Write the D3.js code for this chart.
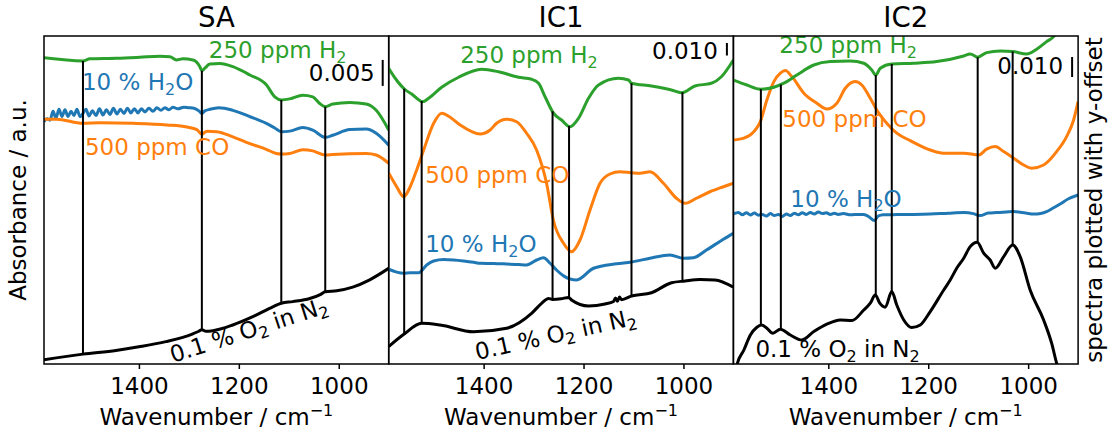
<!DOCTYPE html>
<html>
<head>
<meta charset="utf-8">
<script src="https://cdn.jsdelivr.net/npm/d3@7"></script>
<style>
  body { margin: 0; background: #fff; }
  text { font-family: "DejaVu Sans", sans-serif; }
</style>
</head>
<body>
<div id="chart"></div>
<script>
// Panels and their spectra (wavenumber in cm-1, absorbance in mAbs, offset already applied)
const panels = ["SA", "IC1", "IC2"];
const yMax = [63.1, 262.4, 164];          // visible absorbance range per panel (mAbs)
const tickValues = [1400, 1200, 1000];

const saO2 = [[1590,0.8],[1512,1.9],[1446,2.6],[1400,3.3],[1346,4.3],[1292,5.8],[1280,6.3],[1274,6.6],[1266,6.3],[1252,6.4],[1212,7.5],[1172,9.1],[1132,11.0],[1115,11.7],[1092,12.0],[1058,12.6],[1036,13.4],[1027,13.9],[1004,14.1],[972,14.8],[938,16.2],[900,18.4]];
const saH2O = [[1590,46.6],[1584,47.2],[1578,46.9],[1572,48.6],[1566,47.3],[1560,49.0],[1554,47.6],[1548,48.9],[1542,47.6],[1536,48.6],[1530,47.8],[1524,49.0],[1518,47.6],[1512,48.2],[1506,49.0],[1500,47.7],[1493,48.7],[1486,47.8],[1479,49.1],[1472,47.9],[1465,48.9],[1458,48.0],[1451,49.2],[1444,48.1],[1437,49.0],[1430,48.2],[1423,49.2],[1416,48.3],[1409,49.1],[1402,48.3],[1395,49.1],[1388,48.5],[1380,49.2],[1372,48.6],[1364,49.3],[1356,48.8],[1348,49.3],[1340,48.9],[1332,49.4],[1322,49.1],[1310,49.4],[1300,49.3],[1290,49.2],[1280,48.7],[1274,48.2],[1268,48.7],[1258,49.0],[1240,49.3],[1212,48.8],[1178,47.6],[1145,46.3],[1128,45.4],[1115,44.7],[1098,44.8],[1072,45.5],[1052,45.0],[1027,43.6],[1012,44.0],[978,45.1],[945,45.2],[925,44.4],[900,42.1]];
const saCO = [[1590,47.1],[1565,47.1],[1512,46.3],[1478,46.4],[1412,46.3],[1344,46.0],[1304,45.6],[1284,45.1],[1274,44.2],[1264,44.8],[1244,44.7],[1212,43.7],[1178,42.4],[1145,41.3],[1125,40.5],[1115,40.4],[1098,40.5],[1072,41.2],[1052,41.0],[1027,40.2],[1012,40.3],[945,40.5],[925,40.2],[900,38.6]];
const saH2 = [[1590,58.9],[1512,58.3],[1498,58.7],[1445,58.8],[1398,59.0],[1358,59.2],[1338,59.1],[1325,58.5],[1312,58.7],[1292,58.5],[1278,57.2],[1274,56.4],[1268,56.9],[1258,57.7],[1238,57.8],[1212,57.2],[1178,55.6],[1145,53.7],[1128,51.4],[1115,50.8],[1098,51.0],[1072,51.7],[1052,51.4],[1038,50.1],[1027,49.5],[1012,50.0],[978,50.3],[945,50.0],[925,48.8],[900,45.0]];

const ic1O2 = [[1590,14],[1559,24],[1524,32.6],[1487,31.2],[1420,25.8],[1354,28.6],[1304,40.5],[1284,48.5],[1270,52.5],[1262,51.7],[1245,52.2],[1230,53.3],[1224,51.2],[1190,46.4],[1157,48],[1140,50],[1136,52.8],[1132,50.2],[1128,53.6],[1124,51.5],[1104,54.4],[1064,57],[1024,65],[997,66.4],[967,67.6],[937,67.2],[900,61.4]];
const ic1H2O = [[1590,75.8],[1574,73.5],[1560,72.6],[1547,73],[1530,73],[1514,79.2],[1500,82.4],[1480,83.6],[1460,83.2],[1440,82.4],[1420,81.4],[1407,80.6],[1380,80.4],[1354,80],[1330,79.6],[1314,79.2],[1294,83.2],[1280,85],[1267,80.6],[1254,75.2],[1240,70.5],[1214,67.2],[1180,76.6],[1134,80.2],[1104,81.6],[1067,84.6],[1027,87.2],[1000,84.6],[980,85],[954,91.2],[920,99.8],[900,104.6]];
const ic1CO = [[1590,152.8],[1574,141.8],[1560,133.8],[1547,141.8],[1534,155.2],[1520,171.2],[1500,192.6],[1484,200.6],[1467,197.4],[1447,191.2],[1407,184],[1387,187.2],[1374,192.6],[1354,195.8],[1334,193.8],[1314,184.6],[1294,171.2],[1274,144.6],[1260,114.4],[1240,96.6],[1224,89.8],[1207,99.2],[1187,123.2],[1167,144.6],[1147,152],[1127,153.8],[1104,153],[1087,152.6],[1067,153.8],[1040,144.6],[1014,132.6],[997,128.6],[974,132.6],[947,137.8],[920,141.8],[900,144.6]];
const ic1H2 = [[1590,236.6],[1577,228.6],[1558,219.8],[1544,216],[1522,209.8],[1510,212.6],[1484,221.4],[1450,229.4],[1404,235.8],[1370,233.8],[1330,229.4],[1304,227.8],[1290,224.6],[1277,213.8],[1260,200.6],[1244,195.2],[1227,189.8],[1210,196.6],[1190,212.6],[1170,223.2],[1130,228.6],[1110,227.2],[1104,224.6],[1064,222.4],[1024,219.2],[1004,217],[977,222.4],[944,224.6],[924,229.8],[900,243.2]];

const ic2O2 = [[1590,-10.5],[1583,-0.5],[1569,7],[1556,14.5],[1543,18.4],[1534,19.5],[1523,17.9],[1511,15.4],[1496,17.4],[1476,14.5],[1453,12],[1429,16.2],[1403,19.9],[1376,22],[1353,21.7],[1329,27],[1316,30.4],[1306,34.5],[1297,30.4],[1286,28.4],[1273,36.2],[1263,29.5],[1249,22],[1233,18.2],[1216,19.5],[1196,26.2],[1169,37],[1156,42],[1143,47.9],[1129,52.9],[1116,58.7],[1102,60.9],[1089,55.4],[1076,52],[1066,47.9],[1049,53.7],[1031,59.5],[1016,53.7],[996,37],[969,22],[953,10.4],[943,0.4],[930,-10]];
const ic2H2O = [[1590,75],[1580,75.8],[1572,74.6],[1564,75.6],[1556,74.5],[1548,75.5],[1540,74.4],[1532,74.8],[1524,74],[1516,75.2],[1508,74.2],[1500,74.8],[1492,73.8],[1484,75],[1476,74.2],[1468,75.4],[1460,74.6],[1452,75.6],[1444,74.8],[1436,75.8],[1428,75],[1420,76],[1412,75.2],[1404,75.6],[1396,74.8],[1388,75.4],[1380,74.8],[1370,75.2],[1355,74.6],[1340,74.8],[1329,74.8],[1318,73.5],[1308,71.7],[1300,74],[1290,74.6],[1263,74.7],[1230,74.8],[1196,75],[1160,75.4],[1129,75.7],[1110,75.2],[1096,74.2],[1080,75.5],[1063,75.7],[1029,76.2],[1005,75.5],[989,75],[975,75.3],[963,76.2],[950,78],[936,80],[920,82.5],[900,84.5]];
const ic2CO = [[1590,112],[1569,112.9],[1549,116.2],[1536,121.2],[1523,132],[1509,141.2],[1496,145.4],[1486,146.7],[1473,143.7],[1449,135.4],[1423,130.4],[1403,127.5],[1383,130.4],[1366,137.9],[1346,141.2],[1333,139.5],[1316,132.9],[1303,127],[1283,120.4],[1263,115.4],[1236,111.7],[1196,107],[1169,105.4],[1129,105.4],[1099,104.5],[1083,107.4],[1066,108.7],[1049,106.2],[1029,102.9],[1009,99.5],[993,97.9],[969,99.5],[943,106.2],[923,113.7],[909,122],[900,131.2]];
const ic2H2 = [[1590,142],[1563,139.5],[1536,137.4],[1509,138.4],[1489,140.4],[1463,144.5],[1429,149.5],[1396,151.2],[1356,151.5],[1329,150.4],[1313,147],[1305,144.5],[1296,147.9],[1273,150],[1229,150.4],[1183,151.2],[1129,154],[1116,155],[1101,153.4],[1083,155.7],[1056,156.5],[1031,156.2],[1003,155],[983,157.4],[963,161.2],[949,163.7],[935,169.5],[915,176],[900,182]];

// band positions marked with vertical lines (from O2 spectrum up to H2 spectrum)
const saBands = [1512, 1274, 1115, 1027];
const ic1Bands = [1559, 1524, 1262, 1229, 1104, 1002];
const ic2Bands = [1535, 1495, 1305, 1273, 1101, 1031];

const colors = { O2: "#000000", H2O: "#1f77b4", CO: "#ff7f0e", H2: "#2ca02c" };

const spectra = [
  { O2: saO2, H2O: saH2O, CO: saCO, H2: saH2 },
  { O2: ic1O2, H2O: ic1H2O, CO: ic1CO, H2: ic1H2 },
  { O2: ic2O2, H2O: ic2H2O, CO: ic2CO, H2: ic2H2 }
];
const bands = [saBands, ic1Bands, ic2Bands];

// scale bar: length in mAbs, position, label position
const scaleBars = [
  { label: "0.005", len: 5, wn: 912, top: 58.5, textWn: 928, textV: 54.4 },
  { label: "0.010", len: 10, wn: 913, top: 256.8, textWn: 931, textV: 244 },
  { label: "0.010", len: 10, wn: 912, top: 153.5, textWn: 930, textV: 145 }
];

const labels = [
  [
    { t: "250 ppm H_2", wn: 1260, v: 58.8, k: "H2" },
    { t: "10 % H_2O", wn: 1514, v: 52.7, k: "H2O" },
    { t: "500 ppm CO", wn: 1508, v: 40.2, k: "CO" },
    { t: "0.1 % O_2 in N_2", wn: 1332, v: 0.2, k: "O2", rot: -18 }
  ],
  [
    { t: "250 ppm H_2", wn: 1447, v: 240.8, k: "H2" },
    { t: "500 ppm CO", wn: 1517, v: 144.8, k: "CO" },
    { t: "10 % H_2O", wn: 1517, v: 89.6, k: "H2O" },
    { t: "0.1 % O_2 in N_2", wn: 1413, v: 3.2, k: "O2", rot: -12.5 }
  ],
  [
    { t: "250 ppm H_2", wn: 1498, v: 155.4, k: "H2" },
    { t: "500 ppm CO", wn: 1492, v: 118.7, k: "CO" },
    { t: "10 % H_2O", wn: 1476, v: 78.7, k: "H2O" },
    { t: "0.1 % O_2 in N_2", wn: 1546, v: 3.5, k: "O2", rot: 0 }
  ]
];

// Layout
const width = 1116, height = 434;
const marginLeft = 44, marginTop = 36, panelW = 344.7, plotH = 328;
const fs = 23;

const svg = d3.select("#chart").append("svg")
  .attr("width", width)
  .attr("height", height);

const x = d3.scaleLinear().domain([1590, 900]).range([0, panelW]);

// text with _2 subscripts and ^-1 superscripts
function richText(sel, str) {
  let shift = 0;
  str.split(/(_\d|\^\S+)/).filter(s => s).forEach(part => {
    let target = 0, txt = part, small = false;
    if (part[0] === "_") { target = 4.5; txt = part.slice(1); small = true; }
    else if (part[0] === "^") { target = -9; txt = part.slice(1); small = true; }
    const t = sel.append("tspan").attr("dy", target - shift).text(txt);
    if (small) t.attr("font-size", 16);
    shift = target;
  });
}

// linear interpolation of a spectrum at a wavenumber
function valueAt(data, wn) {
  for (let j = 0; j < data.length - 1; j++) {
    const a = data[j], b = data[j + 1];
    if (wn <= a[0] && wn >= b[0]) {
      return a[1] + (b[1] - a[1]) * (a[0] - wn) / (a[0] - b[0]);
    }
  }
  return data[data.length - 1][1];
}

panels.forEach((name, i) => {
  const g = svg.append("g")
    .attr("transform", `translate(${marginLeft + i * panelW},${marginTop})`);

  const y = d3.scaleLinear().domain([0, yMax[i]]).range([plotH, 0]);

  g.append("clipPath").attr("id", "clip" + i)
    .append("rect").attr("width", panelW).attr("height", plotH);

  const plot = g.append("g").attr("clip-path", `url(#clip${i})`);

  const line = d3.line()
    .x(d => x(d[0]))
    .y(d => y(d[1]))
    .curve(d3.curveMonotoneX);

  ["O2", "H2O", "CO", "H2"].forEach(k => {
    plot.append("path")
      .datum(spectra[i][k])
      .attr("fill", "none")
      .attr("stroke", colors[k])
      .attr("stroke-width", 3)
      .attr("stroke-linejoin", "round")
      .attr("d", line);
  });

  // band markers
  plot.selectAll(".band")
    .data(bands[i])
    .enter()
    .append("line")
    .attr("x1", d => x(d)).attr("x2", d => x(d))
    .attr("y1", d => y(valueAt(spectra[i].O2, d)))
    .attr("y2", d => y(valueAt(spectra[i].H2, d)))
    .attr("stroke", "#000")
    .attr("stroke-width", 2);

  // series labels
  labels[i].forEach(l => {
    const t = g.append("text")
      .attr("transform", `translate(${x(l.wn)},${y(l.v)}) rotate(${l.rot || 0})`)
      .attr("fill", colors[l.k])
      .attr("font-size", fs);
    richText(t, l.t);
  });

  // scale bar
  const sb = scaleBars[i];
  g.append("line")
    .attr("x1", x(sb.wn)).attr("x2", x(sb.wn))
    .attr("y1", y(sb.top)).attr("y2", y(sb.top - sb.len))
    .attr("stroke", "#000").attr("stroke-width", 2);
  g.append("text")
    .attr("x", x(sb.textWn)).attr("y", y(sb.textV))
    .attr("text-anchor", "end")
    .attr("font-size", fs)
    .text(sb.label);

  // frame
  g.append("rect")
    .attr("width", panelW).attr("height", plotH)
    .attr("fill", "none").attr("stroke", "#000").attr("stroke-width", 1.5);

  // x axis
  const ax = g.append("g")
    .attr("transform", `translate(0,${plotH})`)
    .call(d3.axisBottom(x).tickValues(tickValues).tickFormat(d3.format("d"))
      .tickSize(5).tickPadding(9));
  ax.select(".domain").remove();
  ax.selectAll("line").attr("stroke-width", 1.5);
  ax.selectAll("text").attr("font-size", fs).attr("font-family", "DejaVu Sans");

  const xl = g.append("text")
    .attr("x", panelW / 2).attr("y", 389)
    .attr("text-anchor", "middle")
    .attr("font-size", fs);
  richText(xl, "Wavenumber / cm^\u22121");

  // panel title
  g.append("text")
    .attr("x", panelW / 2).attr("y", -8.7)
    .attr("text-anchor", "middle")
    .attr("font-size", 27.6)
    .text(name);
});

svg.append("text")
  .attr("transform", `translate(26,${marginTop + plotH / 2}) rotate(-90)`)
  .attr("text-anchor", "middle")
  .attr("font-size", fs)
  .text("Absorbance / a.u.");

svg.append("text")
  .attr("transform", `translate(1102,${marginTop + plotH / 2}) rotate(-90)`)
  .attr("text-anchor", "middle")
  .attr("font-size", fs)
  .text("spectra plotted with y-offset");
</script>
</body>
</html>
